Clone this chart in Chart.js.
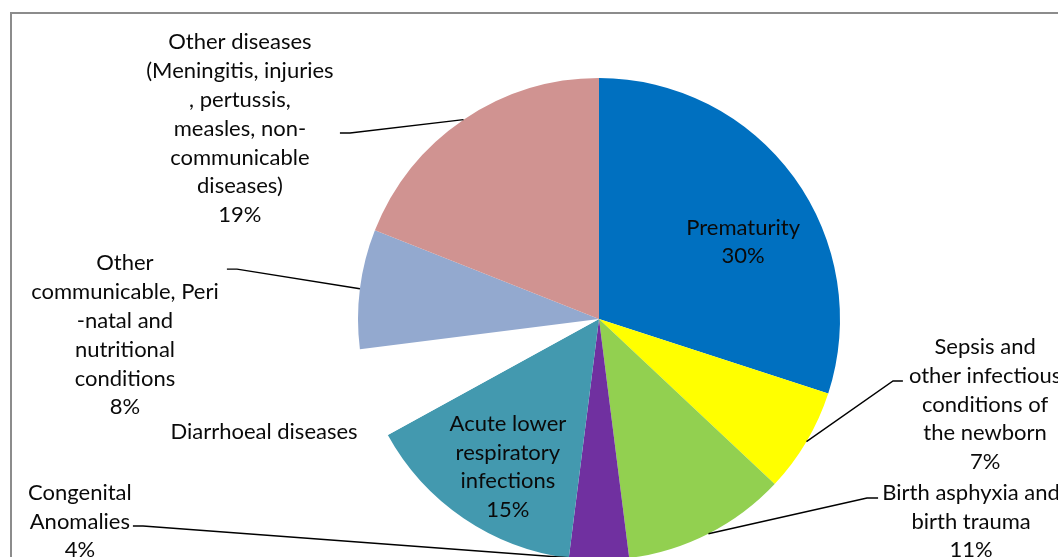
<!DOCTYPE html>
<html>
<head>
<meta charset="utf-8">
<script src="https://cdn.jsdelivr.net/npm/chart.js@4/dist/chart.umd.min.js"></script>
<style>
html,body{margin:0;padding:0;background:#fff;overflow:hidden;width:1058px;height:557px;}
#wrap{position:absolute;left:0;top:0;width:1058px;height:600px;}
</style>
</head>
<body>
<div id="wrap"><canvas id="c" width="1058" height="600"></canvas></div>
<script>
// ---- data ----
const categories = [
  "Prematurity",
  "Sepsis and other infectious conditions of the newborn",
  "Birth asphyxia and birth trauma",
  "Congenital Anomalies",
  "Acute lower respiratory infections",
  "Diarrhoeal diseases",
  "Other communicable, Peri-natal and nutritional conditions",
  "Other diseases (Meningitis, injuries, pertussis, measles, non-communicable diseases)"
];
const values = [30, 7, 11, 4, 15, 6, 8, 19];
const showPercent = [true, true, true, true, true, false, true, true];
const labelLines = [
  ["Prematurity"],
  ["Sepsis and", "other infectious", "conditions of", "the newborn"],
  ["Birth asphyxia and", "birth trauma"],
  ["Congenital", "Anomalies"],
  ["Acute lower", "respiratory", "infections"],
  ["Diarrhoeal diseases"],
  ["Other", "communicable, Peri", "-natal and", "nutritional", "conditions"],
  ["Other diseases", "(Meningitis, injuries", ", pertussis,", "measles, non-", "communicable", "diseases)"]
];
const colors = ["#0070C0", "#FFFF00", "#92D050", "#7030A0", "#4399AF", "#FFFFFF", "#93A9CF", "#D09391"];

// label placement, in units of pie radius from the pie centre
const labelPos = [
  [0.598, -0.320], [1.602, 0.355], [1.544, 0.840], [-2.154, 0.840],
  [-0.378, 0.614], [-1.390, 0.469], [-1.967, 0.068], [-1.490, -0.790]
];
// leader elbows: [elbowX, elbowY, endX] (radius units) or null
const leaders = [
  null, [1.220, 0.257, 1.261], [1.112, 0.743, 1.158], [-1.892, 0.859, -1.934],
  null, null, [-1.502, -0.207, -1.544], [-1.033, -0.772, -1.075]
];

const FONT = '22px Lato, "Liberation Sans", sans-serif';
const LINE_H = 28.8;

const frame = {
  id: 'frame',
  beforeDraw(chart) {
    const ctx = chart.ctx;
    ctx.save();
    ctx.fillStyle = '#fff';
    ctx.fillRect(0, 0, chart.width, chart.height);
    ctx.strokeStyle = '#8c8c8c';
    ctx.lineWidth = 2;
    ctx.strokeRect(11, 13, 2000, 2000);
    ctx.restore();
  }
};

const pieLabels = {
  id: 'pieLabels',
  afterDatasetsDraw(chart) {
    const ctx = chart.ctx;
    const meta = chart.getDatasetMeta(0);
    const total = values.reduce((a, b) => a + b, 0);
    ctx.save();
    meta.data.forEach((arc, i) => {
      const cx = arc.x, cy = arc.y, r = arc.outerRadius;
      const L = leaders[i];
      if (L) {
        const mid = (arc.startAngle + arc.endAngle) / 2;
        const px = cx + Math.cos(mid) * r, py = cy + Math.sin(mid) * r;
        ctx.beginPath();
        ctx.strokeStyle = '#000';
        ctx.lineWidth = 1.4;
        ctx.moveTo(px, py);
        ctx.lineTo(cx + L[0] * r, cy + L[1] * r);
        ctx.lineTo(cx + L[2] * r, cy + L[1] * r);
        ctx.stroke();
      }
      const lines = labelLines[i].slice();
      if (showPercent[i]) lines.push(Math.round(values[i] / total * 100) + '%');
      const tx = cx + labelPos[i][0] * r, ty = cy + labelPos[i][1] * r;
      ctx.font = FONT;
      ctx.fillStyle = '#0a0a0a';
      ctx.textAlign = 'center';
      ctx.textBaseline = 'middle';
      const y0 = ty - (lines.length - 1) * LINE_H / 2;
      lines.forEach((s, k) => ctx.fillText(s, tx, y0 + k * LINE_H));
    });
    ctx.restore();
  }
};

new Chart(document.getElementById('c'), {
  type: 'pie',
  data: {
    labels: categories,
    datasets: [{
      data: values,
      backgroundColor: colors,
      borderWidth: 0,
      hoverOffset: 0
    }]
  },
  options: {
    responsive: false,
    animation: false,
    layout: { padding: { left: 358, top: 78, right: 218, bottom: 40 } },
    plugins: { legend: { display: false }, tooltip: { enabled: false } }
  },
  plugins: [frame, pieLabels]
});
</script>
</body>
</html>
